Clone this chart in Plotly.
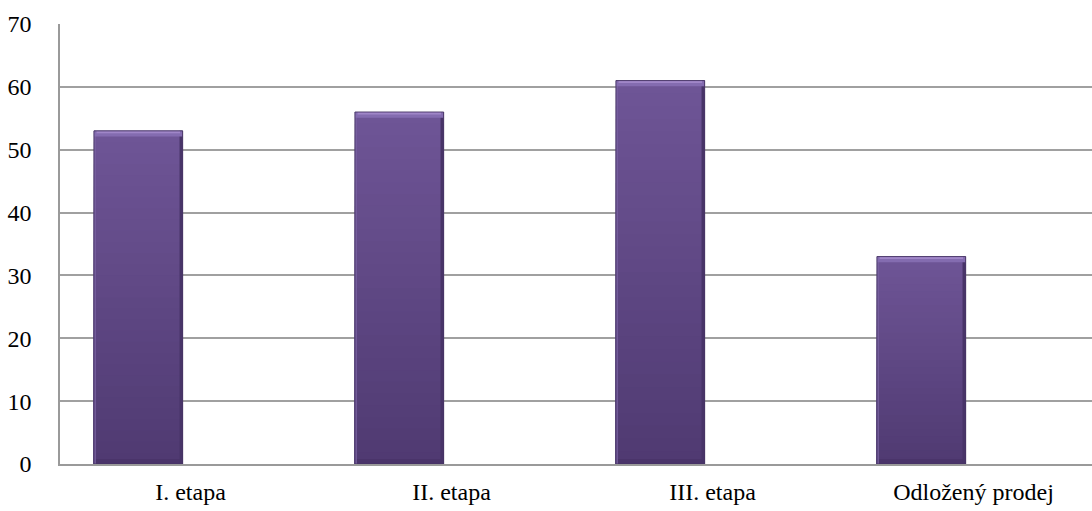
import plotly.graph_objects as go

categories = ["I. etapa", "II. etapa", "III. etapa", "Odložený prodej"]
values = [53, 56, 61, 33]
y_ticks = [0, 10, 20, 30, 40, 50, 60, 70]

OFF, W = -0.37, 0.34
fig = go.Figure()

def rgb(c):
    return "rgb(%d,%d,%d)" % c

def mix(a, b, t):
    return tuple(int(round(a[k] + (b[k] - a[k]) * t)) for k in range(3))

# vertical gradient via nested bars (tallest first, top colour)
N = 30
top_col = (0x6e, 0x55, 0x96)
bot_col = (0x50, 0x3a, 0x72)
for i in range(N):
    frac = (N - i) / N
    c = mix(top_col, bot_col, i / (N - 1))
    fig.add_trace(go.Bar(
        x=categories, y=[v * frac for v in values],
        offset=OFF, width=W,
        marker=dict(color=rgb(c), line=dict(width=0)),
        hoverinfo="skip", showlegend=False,
    ))

# darker bottom band
fig.add_trace(go.Bar(
    x=categories, y=[0.8] * len(values),
    offset=OFF, width=W,
    marker=dict(color="rgb(74,52,106)", line=dict(width=0)),
    hoverinfo="skip", showlegend=False,
))
# left lighter edge
fig.add_trace(go.Bar(
    x=categories, y=values,
    offset=OFF, width=0.008,
    marker=dict(color="rgba(120,96,160,0.8)", line=dict(width=0)),
    hoverinfo="skip", showlegend=False,
))
# right darker edge
fig.add_trace(go.Bar(
    x=categories, y=values,
    offset=OFF + W - 0.012, width=0.012,
    marker=dict(color="rgb(72,52,104)", line=dict(width=0)),
    hoverinfo="skip", showlegend=False,
))
# top bevel strips
fig.add_trace(go.Bar(
    x=categories, y=[0.9] * len(values), base=[v - 0.9 for v in values],
    offset=OFF, width=W,
    marker=dict(color="rgb(132,108,176)", line=dict(width=0)),
    hoverinfo="skip", showlegend=False,
))
fig.add_trace(go.Bar(
    x=categories, y=[0.4] * len(values), base=[v - 0.4 for v in values],
    offset=OFF + 0.01, width=W - 0.02,
    marker=dict(color="rgb(160,134,200)", line=dict(width=0)),
    hoverinfo="skip", showlegend=False,
))
# outline
fig.add_trace(go.Bar(
    x=categories, y=values,
    offset=OFF, width=W,
    marker=dict(color="rgba(0,0,0,0)", line=dict(width=1, color="rgba(70,52,100,0.9)")),
    showlegend=False,
))

fig.update_layout(
    width=1092, height=511,
    margin=dict(l=60, r=0, t=24, b=47),
    plot_bgcolor="white", paper_bgcolor="white",
    barmode="overlay",
    font=dict(family="Liberation Serif", size=24, color="black"),
    xaxis=dict(
        type="category", range=[-0.5, 3.454],
        showgrid=False, showline=True, linecolor="#9a9a9a", linewidth=1.5,
        ticks="", ticklabelstandoff=5,
    ),
    yaxis=dict(
        range=[0, 70], tickvals=y_ticks,
        showgrid=True, gridcolor="#a0a0a0", gridwidth=1.5,
        showline=True, linecolor="#9a9a9a", linewidth=1.5,
        zeroline=False, ticks="", ticklabelstandoff=22,
    ),
)

fig.write_html("out.html")
